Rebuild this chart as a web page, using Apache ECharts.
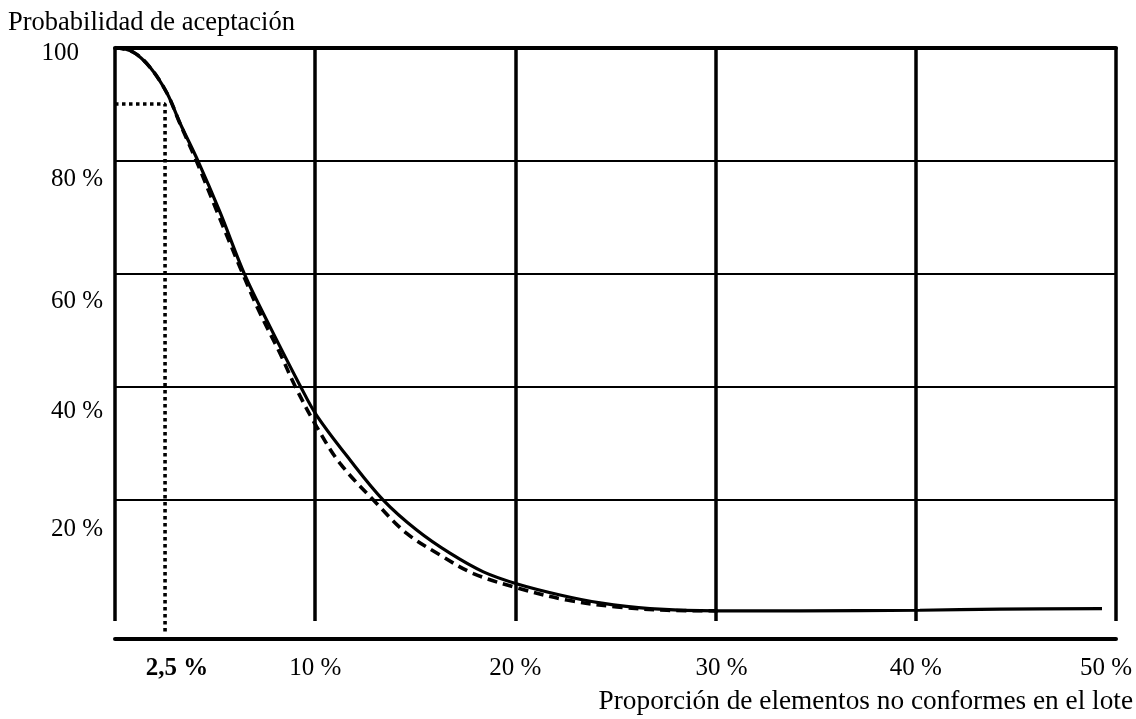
<!DOCTYPE html>
<html>
<head>
<meta charset="utf-8">
<script src="https://cdn.jsdelivr.net/npm/echarts@6/dist/echarts.min.js"></script>
<style>
html,body{margin:0;padding:0;background:#fff;}
#c{width:1136px;height:719px;}
</style>
</head>
<body>
<div id="c"></div>
<script>
// ---- data ----
const yTitle = 'Probabilidad de aceptación';
const xTitle = 'Proporción de elementos no conformes en el lote';
const xLabelValues = [2.5, 10, 20, 30, 40, 50];
const xLabelTexts = ['2,5 %', '10 %', '20 %', '30 %', '40 %', '50 %'];
const yLabelValues = [20, 40, 60, 80, 100];
const yLabelTexts = ['20 %', '40 %', '60 %', '80 %', '100'];
const hGridValues = [20, 40, 60, 80];

const solidX = [0, 0.9, 1.75, 2.6, 3.25, 4.16, 5.24, 6.49, 7.74, 9.24, 10.07, 11.74, 13.40, 15.07, 16.73, 18.40, 20.14, 22.23, 24.23, 26.72, 30.1, 34.2, 40.2, 44.2, 49.3];
const solidY = [100, 99.2, 96.5, 91.9, 86.6, 79.8, 70.9, 59.7, 50.6, 40.2, 34.9, 27.0, 19.9, 14.6, 10.5, 7.2, 5.0, 3.1, 1.7, 0.7, 0.3, 0.3, 0.4, 0.6, 0.7];

const dashedX = [0, 0.9, 1.75, 2.6, 3.25, 4.08, 5.15, 6.41, 7.24, 8.24, 8.99, 10.07, 11.24, 13.07, 14.57, 16.23, 17.90, 20.14, 22.58, 25.07, 27.57, 30.1];
const dashedY = [100, 99.2, 96.5, 91.9, 86.5, 79.8, 70.5, 59.7, 53.0, 45.9, 40.1, 32.9, 26.4, 19.3, 14.0, 10.2, 6.9, 4.3, 2.2, 1.0, 0.4, 0.3];

const refX = [0, 2.5, 2.5];
const refY = [90, 90, -3.6];

// ---- chart ----
const zip = (xs, ys) => xs.map((x, i) => [x, ys[i]]);
const FONT = "'Liberation Serif', 'Times New Roman', serif";

const xRich = {
  b: { fontFamily: FONT, fontSize: 25, fontWeight: 'bold', color: '#000', padding: [0, 0, 0, 24] },
  n: { fontFamily: FONT, fontSize: 25, color: '#000' },
  r: { fontFamily: FONT, fontSize: 25, color: '#000', padding: [0, 0, 0, 12] },
  l: { fontFamily: FONT, fontSize: 25, color: '#000', padding: [0, 20, 0, 0] }
};
const xStyleKey = { 2.5: 'b', 10: 'n', 20: 'n', 30: 'r', 40: 'n', 50: 'l' };

const yRich = {
  y100: { fontFamily: FONT, fontSize: 25, color: '#000', padding: [12, 24, 0, 0] },
  y80: { fontFamily: FONT, fontSize: 25, color: '#000', padding: [38, 0, 0, 0] },
  y60: { fontFamily: FONT, fontSize: 25, color: '#000', padding: [56, 0, 0, 0] },
  y40: { fontFamily: FONT, fontSize: 25, color: '#000', padding: [50, 0, 0, 0] },
  y20: { fontFamily: FONT, fontSize: 25, color: '#000', padding: [60, 0, 0, 0] }
};

const chart = echarts.init(document.getElementById('c'), null, { renderer: 'canvas' });
chart.setOption({
  animation: false,
  backgroundColor: '#fff',
  textStyle: { fontFamily: FONT, color: '#000' },
  title: [
    { text: yTitle, left: 3, top: 5, padding: 5, textStyle: { fontFamily: FONT, fontSize: 26.5, fontWeight: 'normal', color: '#000' } },
    { text: xTitle, right: -2, top: 683, padding: 5, textStyle: { fontFamily: FONT, fontSize: 27.3, fontWeight: 'normal', color: '#000' } }
  ],
  grid: { left: 115, right: 20, top: 47.5, bottom: 98, containLabel: false, outerBoundsMode: 'none' },
  xAxis: [
    {
      type: 'value', min: 0, max: 50, interval: 10, position: 'bottom', offset: 18,
      axisLine: { show: true, onZero: false, lineStyle: { color: '#000', width: 4 } },
      axisTick: { show: false },
      splitLine: { show: true, lineStyle: { color: '#000', width: 3.5 } },
      axisLabel: {
        customValues: xLabelValues,
        margin: 17,
        formatter: function (v) {
          const i = xLabelValues.indexOf(v);
          if (i < 0) return '';
          return '{' + xStyleKey[v] + '|' + xLabelTexts[i] + '}';
        },
        rich: xRich
      }
    },
    {
      type: 'value', min: 0, max: 50, position: 'top',
      axisLine: { show: true, onZero: false, lineStyle: { color: '#000', width: 4 } },
      axisTick: { show: false }, axisLabel: { show: false }, splitLine: { show: false }
    }
  ],
  yAxis: {
    type: 'value', min: -1.5, max: 100,
    axisLine: { show: false }, axisTick: { show: false }, splitLine: { show: false },
    axisLabel: {
      customValues: yLabelValues,
      margin: 12,
      formatter: function (v) {
        const i = yLabelValues.indexOf(v);
        if (i < 0) return '';
        return '{y' + v + '|' + yLabelTexts[i] + '}';
      },
      rich: yRich
    }
  },
  series: [
    {
      name: 'solid', type: 'line', xAxisIndex: 0, data: zip(solidX, solidY),
      showSymbol: false, smooth: 0.35, z: 4,
      lineStyle: { color: '#000', width: 3.2, type: 'solid' },
      markLine: {
        silent: true, symbol: 'none', label: { show: false },
        lineStyle: { color: '#000', width: 2, type: 'solid' },
        data: hGridValues.map(v => ({ yAxis: v }))
      }
    },
    {
      name: 'dashed', type: 'line', xAxisIndex: 0, data: zip(dashedX, dashedY),
      showSymbol: false, smooth: 0.35, z: 3,
      lineStyle: { color: '#000', width: 3.6, type: [10, 6] }
    },
    {
      name: 'ref', type: 'line', xAxisIndex: 0, data: zip(refX, refY),
      showSymbol: false, smooth: false, clip: false, z: 3,
      lineStyle: { color: '#000', width: 3.6, type: [3.5, 3.5] }
    }
  ]
});
</script>
</body>
</html>
